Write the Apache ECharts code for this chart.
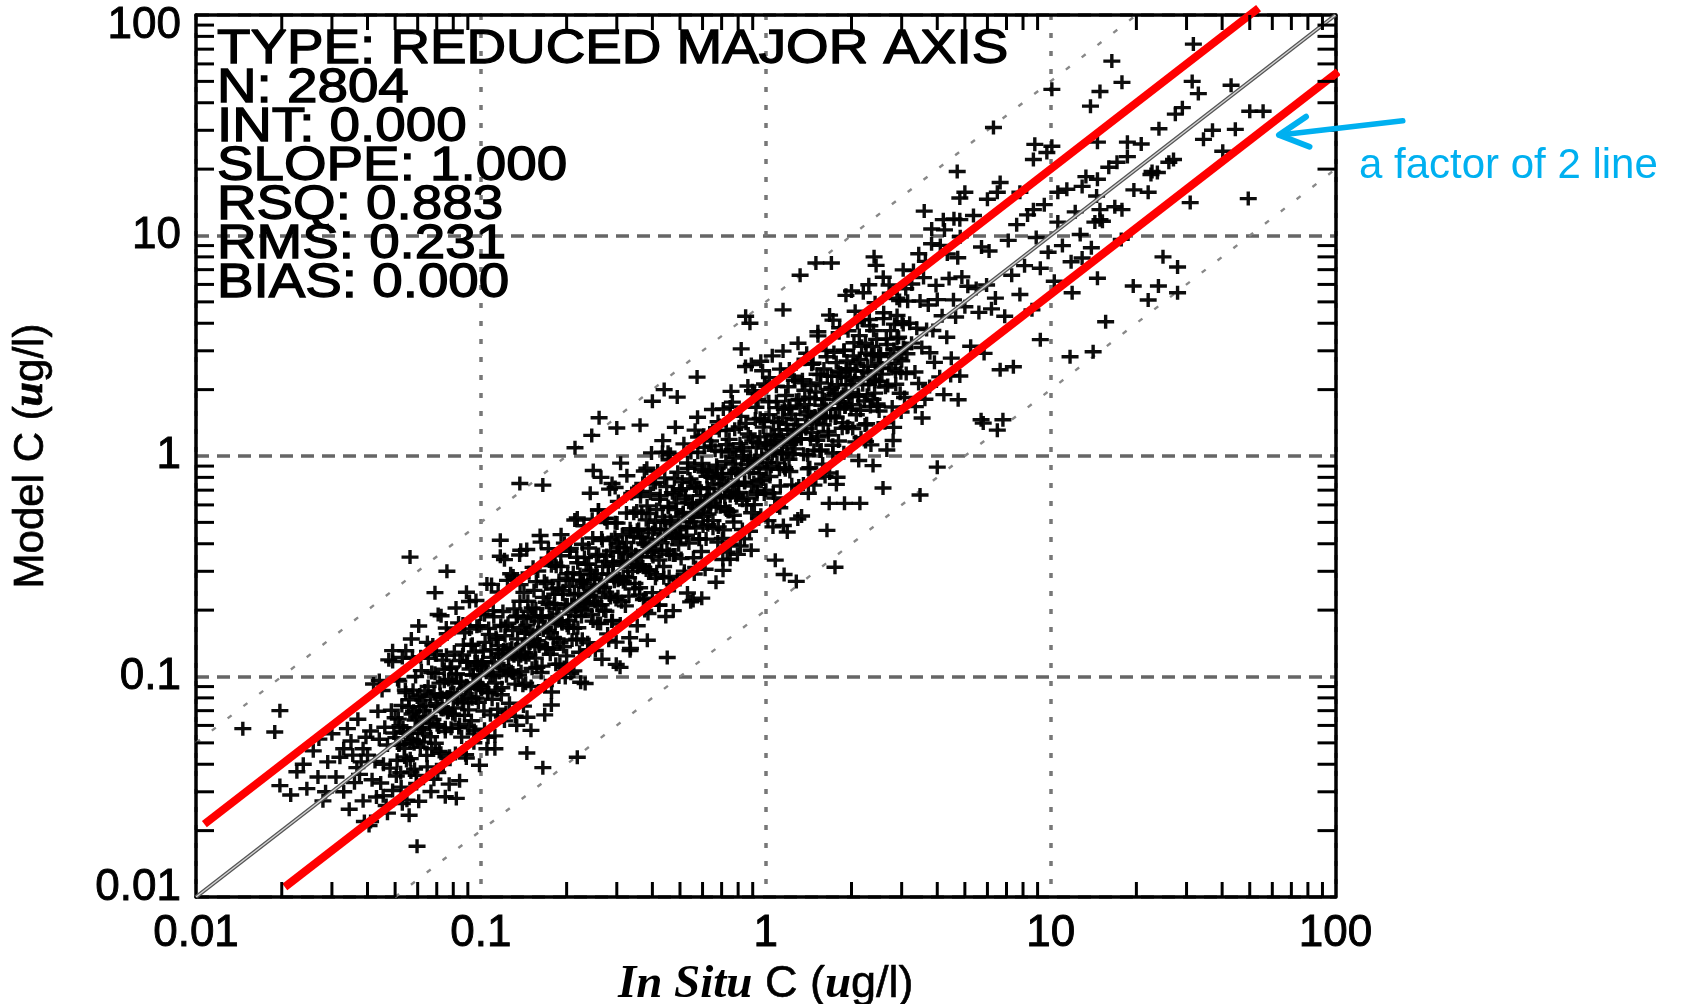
<!DOCTYPE html>
<html>
<head>
<meta charset="utf-8">
<script src="https://cdn.jsdelivr.net/npm/echarts@6/dist/echarts.min.js"></script>
<style>html,body{margin:0;padding:0;background:#fff;}#c{width:1682px;height:1004px;}</style>
</head>
<body>
<div id="c"></div>
<script>
// ---------- tick labels / stats ----------
const xTickLabels = ['0.01', '0.1', '1', '10', '100'];
const yTickLabels = ['0.01', '0.1', '1', '10', '100'];
const minorTickValues = [0.02,0.03,0.04,0.05,0.06,0.07,0.08,0.09,0.2,0.3,0.4,0.5,0.6,0.7,0.8,0.9,2,3,4,5,6,7,8,9,20,30,40,50,60,70,80,90];
const statsLines = ['TYPE: REDUCED MAJOR AXIS', 'N: 2804', 'INT: 0.000', 'SLOPE: 1.000', 'RSQ: 0.883', 'RMS: 0.231', 'BIAS: 0.000'];

// ---------- reference lines (In Situ, Model) ----------
const oneToOne = [[0.01, 0.01], [100, 100]];
const factor5Upper = [[0.01, 0.05], [20, 100]];
const factor5Lower = [[0.05, 0.01], [100, 20]];
const factor2Upper = [[0.0107, 0.0214], [53.7, 107.4]];
const factor2Lower = [[0.0205, 0.0111], [102.2, 55.3]];

// ---------- scatter points [In Situ C, Model C] ----------
const tailLow = [[0.0146,0.058],[0.0189,0.056],[0.0197,0.07],[0.0197,0.032],[0.0215,0.029],[0.0226,0.037],[0.0238,0.04],[0.0245,0.031],[0.0258,0.046],[0.0268,0.035],[0.027,0.052],[0.0279,0.0273],[0.0285,0.03],[0.029,0.041],[0.03,0.055],[0.031,0.035],[0.032,0.043],[0.033,0.03],[0.033,0.047],[0.034,0.058],[0.0345,0.025],[0.035,0.051],[0.0355,0.044],[0.036,0.033],[0.0367,0.0386],[0.037,0.064],[0.0375,0.036],[0.038,0.041],[0.0386,0.0273],[0.0386,0.047],[0.039,0.022],[0.0395,0.053]];
const bin040 = [[0.04,0.044],[0.0405,0.0211],[0.041,0.0566],[0.0415,0.034],[0.042,0.0924],[0.0425,0.0412],[0.043,0.0284],[0.0435,0.0696],[0.044,0.0519],[0.0445,0.0329],[0.045,0.0864],[0.0455,0.04],[0.046,0.0589],[0.0465,0.026],[0.047,0.0489],[0.0475,0.119],[0.048,0.0384],[0.0485,0.0703],[0.049,0.0304],[0.0495,0.0554]];
const bin050 = [[0.05,0.065],[0.0505,0.0354],[0.051,0.0969],[0.0515,0.0489],[0.052,0.0598],[0.0525,0.0315],[0.053,0.122],[0.0535,0.0562],[0.054,0.0432],[0.0545,0.0845],[0.055,0.0275],[0.0555,0.0555],[0.056,0.0784],[0.0565,0.0424],[0.057,0.148],[0.0575,0.0518],[0.058,0.0696],[0.0585,0.038],[0.059,0.1],[0.0595,0.0655],[0.06,0.051],[0.0605,0.0272],[0.061,0.0824],[0.0615,0.123],[0.062,0.0589],[0.0625,0.0781]];
const bin063 = [[0.063,0.0504],[0.0636,0.0859],[0.0642,0.0655],[0.0648,0.0389],[0.0654,0.121],[0.066,0.0614],[0.0666,0.0813],[0.0672,0.047],[0.0678,0.139],[0.0684,0.0342],[0.069,0.1035],[0.0696,0.0752],[0.0702,0.0604],[0.0708,0.191],[0.0714,0.0457],[0.072,0.0828],[0.0726,0.0711],[0.0732,0.1186],[0.0738,0.0399],[0.0744,0.0952],[0.075,0.0585],[0.0756,0.166],[0.0762,0.0808],[0.0768,0.0691],[0.0774,0.0325],[0.078,0.109],[0.0786,0.0582],[0.0792,0.0935]];
const bin080 = [[0.08,0.072],[0.0807,0.129],[0.0814,0.0448],[0.0821,0.1026],[0.0828,0.0828],[0.0835,0.175],[0.0842,0.0606],[0.0849,0.0951],[0.0856,0.0531],[0.0863,0.1251],[0.087,0.0766],[0.0877,0.158],[0.0884,0.0442],[0.0891,0.0909],[0.0898,0.1167],[0.0905,0.0706],[0.0912,0.219],[0.0919,0.0882],[0.0926,0.063],[0.0933,0.14],[0.094,0.1015],[0.0947,0.0549],[0.0954,0.1164],[0.0961,0.0798],[0.0968,0.169],[0.0975,0.1121],[0.0982,0.0913],[0.0989,0.0396]];
const bin100 = [[0.1,0.192],[0.101,0.0889],[0.102,0.1306],[0.103,0.0577],[0.104,0.1082],[0.105,0.2625],[0.106,0.0848],[0.107,0.1552],[0.108,0.067],[0.109,0.1221],[0.11,0.1012],[0.111,0.1865],[0.112,0.0538],[0.113,0.1503],[0.114,0.0866],[0.115,0.138],[0.116,0.1044],[0.117,0.351],[0.118,0.0826],[0.119,0.1261],[0.12,0.132],[0.121,0.0629],[0.122,0.1684],[0.123,0.1009],[0.124,0.2728],[0.125,0.1213]];
const bin126 = [[0.126,0.0756],[0.1272,0.2926],[0.1284,0.1348],[0.1296,0.1037],[0.1308,0.2027],[0.132,0.066],[0.1332,0.1332],[0.1344,0.1882],[0.1356,0.1017],[0.1368,0.3557],[0.138,0.1242],[0.1392,0.167],[0.1404,0.0913],[0.1416,0.2407],[0.1428,0.1571],[0.144,0.1224],[0.1452,0.0653],[0.1464,0.1976],[0.1476,0.2952],[0.1488,0.1414],[0.15,0.1875],[0.1512,0.1089],[0.1524,0.1554],[0.1536,0.2458],[0.1548,0.1362],[0.156,0.2028],[0.1572,0.11],[0.1584,0.301]];
const bin160 = [[0.16,0.1376],[0.1614,0.4358],[0.1628,0.1042],[0.1642,0.1888],[0.1656,0.1623],[0.167,0.2705],[0.1684,0.0909],[0.1698,0.2173],[0.1712,0.1335],[0.1726,0.3797],[0.174,0.1844],[0.1754,0.1579],[0.1768,0.0743],[0.1782,0.2495],[0.1796,0.1329],[0.181,0.2136],[0.1824,0.1733],[0.1838,0.3161],[0.1852,0.1482],[0.1866,0.2519],[0.188,0.1918],[0.1894,0.1136],[0.1908,0.353],[0.1922,0.1787],[0.1936,0.2362],[0.195,0.1365],[0.1964,0.4026],[0.1978,0.0989]];
const bin200 = [[0.2,0.124],[0.2017,0.2925],[0.2034,0.179],[0.2051,0.3692],[0.2068,0.1034],[0.2085,0.2127],[0.2102,0.2733],[0.2119,0.1653],[0.2136,0.5126],[0.2153,0.2067],[0.217,0.1476],[0.2187,0.3281],[0.2204,0.238],[0.2221,0.1288],[0.2238,0.273],[0.2255,0.1872],[0.2272,0.3976],[0.2289,0.2632],[0.2306,0.2145],[0.2323,0.0929],[0.234,0.3229],[0.2357,0.231],[0.2374,0.2137],[0.2391,0.3826],[0.2408,0.1324],[0.2425,0.3031],[0.2442,0.2442],[0.2459,0.5164],[0.2476,0.1783]];
const bin250 = [[0.25,0.275],[0.2522,0.1311],[0.2544,0.3511],[0.2566,0.2104],[0.2588,0.5694],[0.261,0.2532],[0.2632,0.1737],[0.2654,0.4246],[0.2676,0.3158],[0.2698,0.1997],[0.272,0.5222],[0.2742,0.2413],[0.2764,0.3538],[0.2786,0.156],[0.2808,0.292],[0.283,0.7075],[0.2852,0.2282],[0.2874,0.4167],[0.2896,0.1796],[0.2918,0.3268],[0.294,0.2705],[0.2962,0.4976],[0.2984,0.1432],[0.3006,0.3998],[0.3028,0.2301],[0.305,0.366],[0.3072,0.2765],[0.3094,0.9282],[0.3116,0.2181],[0.3138,0.3326]];
const bin316 = [[0.316,0.2844],[0.3188,0.3826],[0.3216,0.209],[0.3244,0.5515],[0.3272,0.3599],[0.33,0.2805],[0.3328,0.1498],[0.3356,0.4531],[0.3384,0.6768],[0.3412,0.3241],[0.344,0.43],[0.3468,0.2497],[0.3496,0.3566],[0.3524,0.5638],[0.3552,0.3126],[0.358,0.4654],[0.3608,0.2526],[0.3636,0.6908],[0.3664,0.3481],[0.3692,0.4246],[0.372,0.2232],[0.3748,0.8556],[0.3776,0.3965],[0.3804,0.3043],[0.3832,0.594],[0.386,0.193],[0.3888,0.3888],[0.3916,0.5482],[0.3944,0.2958],[0.3972,1.033]];
const bin400 = [[0.4,0.24],[0.4035,0.7465],[0.407,0.3785],[0.4105,0.5008],[0.414,0.2898],[0.4175,0.8559],[0.421,0.2105],[0.4245,0.6368],[0.428,0.4622],[0.4315,0.3711],[0.435,1.1745],[0.4385,0.2806],[0.442,0.5083],[0.4455,0.4366],[0.449,0.7274],[0.4525,0.2444],[0.456,0.5837],[0.4595,0.3584],[0.463,1.0186],[0.4665,0.4945],[0.47,0.423],[0.4735,0.1989],[0.477,0.6678],[0.4805,0.3556],[0.484,0.5711],[0.4875,0.4631],[0.491,0.8445],[0.4945,0.3956]];
const bin500 = [[0.5,0.48],[0.5045,0.3431],[0.509,0.7635],[0.5135,0.5546],[0.518,0.3004],[0.5225,0.6375],[0.527,0.4374],[0.5315,0.9301],[0.536,0.6164],[0.5405,0.5027],[0.545,0.218],[0.5495,0.7583],[0.554,0.5429],[0.5585,0.5027],[0.563,0.9008],[0.5675,0.3121],[0.572,0.715],[0.5765,0.5765],[0.581,1.2201],[0.5855,0.4216],[0.59,0.6608],[0.5945,0.3686],[0.599,0.8686],[0.6035,0.5311],[0.608,1.0944],[0.6125,0.3063],[0.617,0.6293],[0.6215,0.808],[0.626,0.4883]];
const bin630 = [[0.63,0.8505],[0.6357,1.2714],[0.6414,0.6093],[0.6471,0.8089],[0.6528,0.47],[0.6585,0.6717],[0.6642,1.0627],[0.6699,0.5895],[0.6756,0.8783],[0.6813,0.4769],[0.687,1.3053],[0.6927,0.6581],[0.6984,0.8032],[0.7041,0.4225],[0.7098,1.6325],[0.7155,0.7513],[0.7212,0.577],[0.7269,1.1267],[0.7326,0.3663],[0.7383,0.7383],[0.744,1.0416],[0.7497,0.5623],[0.7554,1.964],[0.7611,0.685],[0.7668,0.9202],[0.7725,0.5021],[0.7782,1.3229],[0.7839,0.8623],[0.7896,0.6712],[0.7953,0.3579]];
const bin800 = [[0.8,0.736],[0.807,1.3558],[0.814,0.3907],[0.821,1.0919],[0.828,0.6293],[0.835,1.002],[0.842,0.7578],[0.849,2.547],[0.856,0.5992],[0.863,0.9148],[0.87,0.957],[0.877,0.456],[0.884,1.2199],[0.891,0.7306],[0.898,1.9756],[0.905,0.8779],[0.912,0.6019],[0.919,1.4704],[0.926,1.0927],[0.933,0.6904],[0.94,1.8048],[0.947,0.8334],[0.954,1.2211],[0.961,0.5382],[0.968,1.0067],[0.975,2.4375],[0.982,0.7856],[0.989,1.4341]];
const bin1000 = [[1.0,0.7],[1.009,2.068],[1.018,0.509],[1.027,1.541],[1.036,1.119],[1.045,0.899],[1.054,2.846],[1.063,0.68],[1.072,1.233],[1.081,1.059],[1.09,1.766],[1.099,0.593],[1.108,1.418],[1.117,0.871],[1.126,2.477],[1.135,1.203],[1.144,1.03],[1.153,0.484],[1.162,1.627],[1.171,0.867],[1.18,1.392],[1.189,1.13],[1.198,2.061],[1.207,0.966],[1.216,1.642],[1.225,1.25],[1.234,0.74],[1.243,2.3],[1.252,1.164]];
const bin1260 = [[1.26,2.205],[1.272,1.463],[1.284,1.194],[1.296,0.518],[1.308,1.805],[1.32,1.294],[1.332,1.199],[1.344,2.15],[1.356,0.746],[1.368,1.71],[1.38,1.38],[1.392,2.923],[1.404,1.011],[1.416,1.586],[1.428,0.885],[1.44,2.088],[1.452,1.278],[1.464,2.635],[1.476,0.738],[1.488,1.518],[1.5,1.95],[1.512,1.179],[1.524,3.658],[1.536,1.475],[1.548,1.053],[1.56,2.34],[1.572,1.698],[1.584,0.919]];
const bin1600 = [[1.6,2.48],[1.615,0.808],[1.63,1.63],[1.645,2.303],[1.66,1.245],[1.675,4.355],[1.69,1.521],[1.705,2.046],[1.72,1.118],[1.735,2.95],[1.75,1.925],[1.765,1.5],[1.78,0.801],[1.795,2.423],[1.81,3.62],[1.825,1.734],[1.84,2.3],[1.855,1.336],[1.87,1.907],[1.885,3.016],[1.9,1.672],[1.915,2.49],[1.93,1.351],[1.945,3.696],[1.96,1.862],[1.975,2.271]];
const bin2000 = [[2.0,1.94],[2.02,1.333],[2.04,3.264],[2.06,2.431],[2.08,1.539],[2.1,4.032],[2.12,1.866],[2.14,2.739],[2.16,1.21],[2.18,2.267],[2.2,5.5],[2.22,1.776],[2.24,3.248],[2.26,1.401],[2.28,2.554],[2.3,2.116],[2.32,3.898],[2.34,1.123],[2.36,3.139],[2.38,1.809],[2.4,2.88],[2.42,2.178],[2.44,7.32],[2.46,1.722],[2.48,2.629]];
const bin2500 = [[2.5,1.6],[2.53,2.91],[2.56,2.509],[2.59,4.196],[2.62,1.415],[2.65,3.392],[2.68,2.09],[2.71,5.962],[2.74,2.904],[2.77,2.493],[2.8,1.176],[2.83,3.962],[2.86,2.116],[2.89,3.41],[2.92,2.774],[2.95,5.074],[2.98,2.384],[3.01,4.064],[3.04,3.101],[3.07,1.842],[3.1,5.735],[3.13,2.911]];
const bin3160 = [[3.2,4.0],[3.25,3.25],[3.3,6.93],[3.34,2.405],[3.39,3.797],[3.44,2.133],[3.48,5.046],[3.53,3.106],[3.58,6.444],[3.62,1.81],[3.67,3.743],[3.72,4.836],[3.77,2.941],[3.82,9.168],[3.86,3.706],[3.91,2.659],[3.96,5.94]];
const bin4000 = [[4.0,5.12],[4.08,2.285],[4.16,4.326],[4.24,10.6],[4.32,3.456],[4.4,6.38],[4.48,2.778],[4.56,5.107],[4.64,4.269],[4.72,7.93],[4.8,2.304],[4.88,6.49]];
const bin5000 = [[5.0,4.75],[5.12,5.888],[5.24,3.144],[5.36,12.33],[5.48,5.754],[5.6,4.48],[5.72,8.866],[5.84,2.92],[5.96,5.96],[6.08,8.512],[6.2,4.65]];
// second reading of the dense core, close to the 1:1 line
const core050 = [[0.0503,0.0528],[0.0508,0.0417],[0.0513,0.0641],[0.0518,0.0492],[0.0523,0.0366],[0.0528,0.0739],[0.0533,0.0586],[0.0538,0.0473],[0.0543,0.0869],[0.0548,0.0416],[0.0553,0.0553],[0.0558,0.0725],[0.0563,0.0507],[0.0568,0.0369],[0.0573,0.0676],[0.0578,0.0867],[0.0583,0.0496],[0.0588,0.0635],[0.0593,0.0356],[0.0598,0.0807],[0.0603,0.0585],[0.0608,0.073],[0.0613,0.0478],[0.0618,0.1063],[0.0623,0.0573],[0.0628,0.0703]];
const core063 = [[0.0633,0.0551],[0.064,0.0736],[0.0646,0.0439],[0.0653,0.0901],[0.0659,0.0659],[0.0666,0.0533],[0.0672,0.1042],[0.0679,0.0638],[0.0685,0.0836],[0.0692,0.0498],[0.0698,0.1256],[0.0705,0.0733],[0.0711,0.059],[0.0718,0.0933],[0.0724,0.0449],[0.0731,0.0804],[0.0737,0.0708],[0.0744,0.1079],[0.075,0.0563],[0.0757,0.1249],[0.0763,0.0687],[0.077,0.097],[0.0776,0.0435],[0.0783,0.0838],[0.0789,0.1105],[0.0796,0.0677]];
const core080 = [[0.0804,0.0844],[0.0812,0.0666],[0.082,0.1025],[0.0828,0.0787],[0.0836,0.0585],[0.0844,0.1182],[0.0852,0.0937],[0.086,0.0757],[0.0868,0.1389],[0.0876,0.0666],[0.0884,0.0884],[0.0892,0.116],[0.09,0.081],[0.0908,0.059],[0.0916,0.1081],[0.0924,0.1386],[0.0932,0.0792],[0.094,0.1015],[0.0948,0.0569],[0.0956,0.1291],[0.0964,0.0935],[0.0972,0.1166],[0.098,0.0764],[0.0988,0.1699],[0.0996,0.0916],[0.1004,0.1124]];
const core100 = [[0.1005,0.0874],[0.1015,0.1167],[0.1025,0.0697],[0.1035,0.1428],[0.1045,0.1045],[0.1055,0.0844],[0.1065,0.1651],[0.1075,0.1011],[0.1085,0.1324],[0.1095,0.0788],[0.1105,0.1989],[0.1115,0.116],[0.1125,0.0934],[0.1135,0.1476],[0.1145,0.071],[0.1155,0.1271],[0.1165,0.1118],[0.1175,0.1704],[0.1185,0.0889],[0.1195,0.1972],[0.1205,0.1085],[0.1215,0.1531],[0.1225,0.0686],[0.1235,0.1321],[0.1245,0.1743],[0.1255,0.1067]];
const core126 = [[0.1267,0.133],[0.128,0.105],[0.1293,0.1616],[0.1306,0.1241],[0.1319,0.0923],[0.1332,0.1865],[0.1345,0.148],[0.1358,0.1195],[0.1371,0.2194],[0.1384,0.1052],[0.1397,0.1397],[0.141,0.1833],[0.1423,0.1281],[0.1436,0.0933],[0.1449,0.171],[0.1462,0.2193],[0.1475,0.1254],[0.1488,0.1607],[0.1501,0.0901],[0.1514,0.2044],[0.1527,0.1481],[0.154,0.1848],[0.1553,0.1211],[0.1566,0.2694],[0.1579,0.1453],[0.1592,0.1783]];
const core160 = [[0.1608,0.1399],[0.1624,0.1868],[0.164,0.1115],[0.1656,0.2285],[0.1672,0.1672],[0.1688,0.135],[0.1704,0.2641],[0.172,0.1617],[0.1736,0.2118],[0.1752,0.1261],[0.1768,0.3182],[0.1784,0.1855],[0.18,0.1494],[0.1816,0.2361],[0.1832,0.1136],[0.1848,0.2033],[0.1864,0.1789],[0.188,0.2726],[0.1896,0.1422],[0.1912,0.3155],[0.1928,0.1735],[0.1944,0.2449],[0.196,0.1098],[0.1976,0.2114],[0.1992,0.2789],[0.2008,0.1707]];
const core200 = [[0.201,0.2111],[0.203,0.1665],[0.205,0.2563],[0.207,0.1967],[0.209,0.1463],[0.211,0.2954],[0.213,0.2343],[0.215,0.1892],[0.217,0.3472],[0.219,0.1664],[0.221,0.221],[0.223,0.2899],[0.225,0.2025],[0.227,0.1476],[0.229,0.2702],[0.231,0.3465],[0.233,0.1981],[0.235,0.2538],[0.237,0.1422],[0.239,0.3227],[0.241,0.2338],[0.243,0.2916],[0.245,0.1911],[0.247,0.4248],[0.249,0.2291],[0.251,0.2811]];
const core250 = [[0.2513,0.2186],[0.2539,0.292],[0.2565,0.1744],[0.2591,0.3576],[0.2617,0.2617],[0.2643,0.2114],[0.2669,0.4137],[0.2695,0.2533],[0.2721,0.332],[0.2747,0.1978],[0.2773,0.4991],[0.2799,0.2911],[0.2825,0.2345],[0.2851,0.3706],[0.2877,0.1784],[0.2903,0.3193],[0.2929,0.2812],[0.2955,0.4285],[0.2981,0.2236],[0.3007,0.4962],[0.3033,0.273],[0.3059,0.3854],[0.3085,0.1728],[0.3111,0.3329],[0.3137,0.4392],[0.3163,0.2689]];
const core316 = [[0.3177,0.3336],[0.321,0.2632],[0.3243,0.4054],[0.3276,0.3112],[0.3309,0.2316],[0.3342,0.4679],[0.3375,0.3713],[0.3408,0.2999],[0.3441,0.5506],[0.3474,0.264],[0.3507,0.3507],[0.354,0.4602],[0.3573,0.3216],[0.3606,0.2344],[0.3639,0.4294],[0.3672,0.5508],[0.3705,0.3149],[0.3738,0.4037],[0.3771,0.2263],[0.3804,0.5135],[0.3837,0.3722],[0.387,0.4644],[0.3903,0.3044],[0.3936,0.677],[0.3969,0.3651],[0.4002,0.4482]];
const core400 = [[0.402,0.3497],[0.406,0.4669],[0.41,0.2788],[0.414,0.5713],[0.418,0.418],[0.422,0.3376],[0.426,0.6603],[0.43,0.4042],[0.434,0.5295],[0.438,0.3154],[0.442,0.7956],[0.446,0.4638],[0.45,0.3735],[0.454,0.5902],[0.458,0.284],[0.462,0.5082],[0.466,0.4474],[0.47,0.6815],[0.474,0.3555],[0.478,0.7887],[0.482,0.4338],[0.486,0.6124],[0.49,0.2744],[0.494,0.5286],[0.498,0.6972],[0.502,0.4267]];
const core500 = [[0.5025,0.4271],[0.5075,0.7105],[0.5125,0.5484],[0.5175,0.2898],[0.5225,0.6584],[0.5275,0.4748],[0.5325,0.8786],[0.5375,0.4031],[0.5425,0.7866],[0.5475,0.5256],[0.5525,0.6078],[0.5575,0.3457],[0.5625,0.7313],[0.5675,0.471],[0.5725,0.5954],[0.5775,1.0395],[0.5825,0.4194],[0.5875,0.7168],[0.5925,0.557],[0.5975,0.9261],[0.6025,0.482],[0.6075,0.6075],[0.6125,0.8453],[0.6175,0.4199],[0.6225,0.7159],[0.6275,0.5459]];
const core630 = [[0.6333,0.7093],[0.6398,0.5886],[0.6463,1.1116],[0.6528,0.5092],[0.6593,0.7912],[0.6658,0.6458],[0.6723,0.9076],[0.6788,0.4073],[0.6853,0.7401],[0.6918,0.588],[0.6983,1.0475],[0.7048,0.8317],[0.7113,0.4623],[0.7178,0.646],[0.7243,0.9416],[0.7308,0.7308],[0.7373,0.5603],[0.7438,1.1901],[0.7503,0.6603],[0.7568,0.8325],[0.7633,1.0686],[0.7698,0.5389],[0.7763,0.7375],[0.7828,0.9785],[0.7893,0.6472],[0.7958,0.8356]];
const core800 = [[0.804,0.683],[0.812,1.137],[0.82,0.877],[0.828,0.464],[0.836,1.053],[0.844,0.76],[0.852,1.406],[0.86,0.645],[0.868,1.259],[0.876,0.841],[0.884,0.972],[0.892,0.553],[0.9,1.17],[0.908,0.754],[0.916,0.953],[0.924,1.663],[0.932,0.671],[0.94,1.147],[0.948,0.891],[0.956,1.482],[0.964,0.771],[0.972,0.972],[0.98,1.352],[0.988,0.672],[0.996,1.145],[1.004,0.873]];
const core1000 = [[1.005,1.126],[1.015,0.934],[1.025,1.763],[1.035,0.807],[1.045,1.254],[1.055,1.023],[1.065,1.438],[1.075,0.645],[1.085,1.172],[1.095,0.931],[1.105,1.658],[1.115,1.316],[1.125,0.731],[1.135,1.022],[1.145,1.489],[1.155,1.155],[1.165,0.885],[1.175,1.88],[1.185,1.043],[1.195,1.315],[1.205,1.687],[1.215,0.851],[1.225,1.164],[1.235,1.544],[1.245,1.021],[1.255,1.318]];
const core1260 = [[1.267,1.077],[1.28,1.792],[1.293,1.384],[1.306,0.731],[1.319,1.662],[1.332,1.199],[1.345,2.219],[1.358,1.019],[1.371,1.988],[1.384,1.329],[1.397,1.537],[1.41,0.874],[1.423,1.85],[1.436,1.192],[1.449,1.507],[1.462,2.632],[1.475,1.062],[1.488,1.815],[1.501,1.411],[1.514,2.347],[1.527,1.222],[1.54,1.54],[1.553,2.143],[1.566,1.065],[1.579,1.816],[1.592,1.385]];
const core1600 = [[1.608,1.801],[1.624,1.494],[1.64,2.821],[1.656,1.292],[1.672,2.006],[1.688,1.637],[1.704,2.3],[1.72,1.032],[1.736,1.875],[1.752,1.489],[1.768,2.652],[1.784,2.105],[1.8,1.17],[1.816,1.634],[1.832,2.382],[1.848,1.848],[1.864,1.417],[1.88,3.008],[1.896,1.668],[1.912,2.103],[1.928,2.699],[1.944,1.361],[1.96,1.862],[1.976,2.47],[1.992,1.633],[2.008,2.108]];
const core2000 = [[2.01,1.709],[2.03,2.842],[2.05,2.194],[2.07,1.159],[2.09,2.633],[2.11,1.899],[2.13,3.515],[2.15,1.613],[2.17,3.147],[2.19,2.102],[2.21,2.431],[2.23,1.383],[2.25,2.925],[2.27,1.884],[2.29,2.382],[2.31,4.158],[2.33,1.678],[2.35,2.867],[2.37,2.228],[2.39,3.705],[2.41,1.928],[2.43,2.43],[2.45,3.381],[2.47,1.68],[2.49,2.864],[2.51,2.184]];
const core2500 = [[2.52,2.822],[2.557,2.352],[2.594,4.462],[2.631,2.052],[2.668,3.202],[2.705,2.624],[2.742,3.702],[2.779,1.667],[2.816,3.041],[2.853,2.425],[2.89,4.335],[2.927,3.454],[2.964,1.927],[3.001,2.701],[3.038,3.949],[3.075,3.075],[3.112,2.365],[3.149,5.038]];
// points outside the factor-2 band, along the whole cloud
const fringeUpper = [[0.0515,0.0953],[0.0545,0.1308],[0.0575,0.1208],[0.0605,0.1694],[0.0649,0.1428],[0.0687,0.1305],[0.0725,0.1885],[0.0762,0.1562],[0.0818,0.2045],[0.0865,0.173],[0.0913,0.1643],[0.0961,0.221],[0.103,0.1906],[0.109,0.2616],[0.115,0.2415],[0.121,0.3388],[0.1298,0.2856],[0.1373,0.2609],[0.1449,0.3767],[0.1525,0.3126],[0.1627,0.4068],[0.1722,0.3444],[0.1817,0.3271],[0.1912,0.4398],[0.206,0.3811],[0.218,0.5232],[0.23,0.483],[0.242,0.6776],[0.2585,0.5687],[0.2736,0.5198],[0.2887,0.7506],[0.3037,0.6226],[0.3255,0.8138],[0.3444,0.6888],[0.3634,0.6541],[0.3824,0.8795],[0.41,0.7585],[0.4338,1.0411],[0.4577,0.9612],[0.4816,1.3485],[0.516,1.1352],[0.5461,1.0376],[0.5762,1.4981],[0.6062,1.2427],[0.65,1.625],[0.6878,1.3756],[0.7257,1.3063],[0.7635,1.756],[0.8178,1.513],[0.8655,2.0772],[0.9131,1.9175],[0.9607,2.69],[1.03,2.266],[1.09,2.071],[1.15,2.99],[1.21,2.4805],[1.298,3.245],[1.373,2.746],[1.449,2.608],[1.525,3.5075],[1.627,3.01],[1.722,4.133],[1.817,3.816],[1.912,5.354],[2.06,4.532],[2.18,4.142],[2.3,5.98],[2.42,4.961],[2.585,6.4625],[2.736,5.472],[2.887,5.197],[3.037,6.985],[3.255,6.022],[3.444,8.266],[3.634,7.631],[3.824,10.707],[4.1,9.02],[4.338,8.242],[4.577,11.9],[4.816,9.873]];
const fringeLower = [[0.053,0.0265],[0.056,0.0235],[0.0595,0.0327],[0.0668,0.0301],[0.0706,0.0367],[0.075,0.0285],[0.0842,0.0337],[0.0889,0.0427],[0.0945,0.0501],[0.106,0.053],[0.112,0.047],[0.119,0.0655],[0.1336,0.0601],[0.1411,0.0734],[0.1499,0.057],[0.1675,0.067],[0.177,0.085],[0.188,0.0996],[0.212,0.106],[0.224,0.0941],[0.238,0.1309],[0.2661,0.1197],[0.2811,0.1462],[0.2987,0.1135],[0.335,0.134],[0.3539,0.1699],[0.376,0.1993],[0.4219,0.211],[0.4458,0.1872],[0.4736,0.2605],[0.5311,0.239],[0.5611,0.2918],[0.5962,0.2266],[0.6689,0.2676],[0.7067,0.3392],[0.7509,0.398],[0.8416,0.4208],[0.8893,0.3735],[0.9449,0.5197],[1.06,0.477],[1.12,0.5824],[1.19,0.4522],[1.336,0.5344],[1.411,0.6773],[1.499,0.7945],[1.675,0.8375],[1.77,0.7434],[1.88,1.034],[2.12,0.954],[2.24,1.165],[2.38,0.9044],[2.661,1.064],[2.811,1.349],[2.987,1.583],[3.35,1.675],[3.539,1.486],[3.76,2.068],[4.219,1.899],[4.458,2.318],[4.736,1.8]];
const tailHigh = [[6.3,30.9],[6.4,5.2],[6.5,15.7],[6.65,17.4],[6.65,2.46],[6.8,1.46],[6.9,4.3],[7.1,9.5],[7.3,6.6],[7.4,2.54],[7.6,11.2],[7.8,15.7],[7.8,5.4],[8.1,7.3],[8.3,12.4],[8.6,4.6],[8.7,13.1],[8.7,22.1],[8.8,25.9],[8.9,9.8],[9.2,3.37],[9.2,7.1],[9.5,13.8],[9.7,23.8],[9.8,8.4],[10.1,25.4],[10.1,46],[10.3,6.2],[10.6,15.7],[10.6,11.5],[11.0,9.0],[11.4,16.2],[11.7,2.82],[11.8,7.6],[11.9,5.5],[12.2,12.8],[12.7,10.1],[12.9,16.7],[12.9,7.9],[13.3,18.5],[13.8,38.6],[13.9,8.8],[14.1,2.97],[14.3,11.5],[14.5,15.1],[14.6,26.5],[14.6,6.4],[14.6,18],[14.9,45],[14.9,13.1],[14.9,11.8],[15.2,11.6],[15.6,4.06],[16.0,20.4],[16.4,61.8],[16.8,13.5],[17.1,21.5],[17.7,9.6],[17.8,49.5],[17.8,13.1],[18.6,26.5],[18.6,22.8],[19.5,5.9],[19.6,16.1],[20.8,26.0],[22,15.7],[22,5.1],[22.5,18.9],[22.7,19.5],[23.7,19.3],[23.9,5.9],[24.0,30.5],[24.8,8.0],[26.0,21.5],[27,22.1],[27.4,35.5],[27.9,7.2],[27.9,5.5],[29.0,38.0],[30.9,14.1],[31.4,50],[31.7,73.8],[33.0,44.0],[34.4,27.3],[37.0,30.0],[40.2,24.1],[43.0,48.0],[44.5,30.3],[49.4,14.7],[50,36.6],[55.7,36.6]];
const outUpper = [[0.044,0.096],[0.049,0.131],[0.049,0.117],[0.0564,0.348],[0.069,0.24],[0.076,0.3],[0.089,0.241],[0.117,0.415],[0.131,0.275],[0.137,0.75],[0.138,0.374],[0.165,0.738],[0.214,1.09],[0.245,1.24],[0.248,0.86],[0.26,1.49],[0.264,0.8],[0.296,0.72],[0.3,1.34],[0.362,1.38],[0.37,0.75],[0.4,1.77],[0.44,2.0],[0.454,1.04],[0.489,1.85],[0.565,1.31],[0.574,2.28],[0.64,1.17],[0.68,1.43],[0.75,1.67],[0.82,3.06],[0.85,4.3],[0.88,4.0],[0.89,2.6],[0.99,2.12],[1.15,4.6],[1.32,6.6],[1.5,7.5],[1.7,7.5],[2.0,5.6],[2.4,8.0],[3.6,12.9],[4.2,11.8],[4.7,19.5],[4.8,11.8],[4.8,14.8],[5.0,15.7],[6.0,14.6]];
const outLower = [[0.041,0.022],[0.0454,0.0288],[0.047,0.024],[0.0597,0.017],[0.082,0.028],[0.105,0.047],[0.145,0.045],[0.165,0.0386],[0.218,0.043],[0.308,0.11],[0.334,0.131],[0.384,0.146],[0.451,0.122],[0.556,0.221],[0.708,0.303],[0.75,0.34],[1.08,0.337],[1.16,0.29],[1.28,0.27],[1.64,0.46],[1.67,0.61],[1.75,0.313],[1.89,0.61],[2.14,0.61],[2.58,0.716],[3.48,0.665],[4.0,0.89],[5.7,1.46],[5.8,1.41],[6.5,1.31]];

const allPoints = [].concat(tailLow, bin040, bin050, bin063, bin080, bin100, bin126, bin160, bin200, bin250, bin316,
  bin400, bin500, bin630, bin800, bin1000, bin1260, bin1600, bin2000, bin2500, bin3160, bin4000, bin5000,
  core050, core063, core080, core100, core126, core160, core200, core250, core316, core400, core500, core630,
  core800, core1000, core1260, core1600, core2000, core2500, fringeUpper, fringeLower, tailHigh, outUpper, outLower);

// ---------- chart ----------
const chart = echarts.init(document.getElementById('c'), null, {renderer: 'canvas'});
const plusSymbol = 'path://M0,5.3H17V8.7H0Z M6.8,0H10.2V14H6.8Z';
const SANS = 'Liberation Sans';
const SERIF = 'Liberation Serif';

function labelFor(list, v) { return list[Math.round(Math.log10(v)) + 2]; }

function renderXTick(params, api) {
  const v = api.value(0);
  const b = api.coord([v, 0.01]);
  const t = api.coord([v, 100]);
  const st = {stroke: '#000', lineWidth: 3};
  return {type: 'group', children: [
    {type: 'line', shape: {x1: b[0], y1: b[1], x2: b[0], y2: b[1] - 15}, style: st},
    {type: 'line', shape: {x1: t[0], y1: t[1], x2: t[0], y2: t[1] + 15}, style: st}
  ]};
}
function renderYTick(params, api) {
  const v = api.value(1);
  const l = api.coord([0.01, v]);
  const r = api.coord([100, v]);
  const st = {stroke: '#000', lineWidth: 3};
  return {type: 'group', children: [
    {type: 'line', shape: {x1: l[0], y1: l[1], x2: l[0] + 18, y2: l[1]}, style: st},
    {type: 'line', shape: {x1: r[0], y1: r[1], x2: r[0] - 18, y2: r[1]}, style: st}
  ]};
}

const axisLineStyle = {show: true, lineStyle: {color: '#000', width: 3.5}};
const tickFont = {color: '#000', fontFamily: SANS, fontSize: 44, textBorderColor: '#000', textBorderWidth: 0.9};

const option = {
  backgroundColor: '#fff',
  animation: false,
  grid: {left: 196, top: 15, width: 1139.5, height: 882, containLabel: false, outerBoundsMode: 'none'},
  xAxis: [
    {
      type: 'log', logBase: 10, min: 0.01, max: 100, position: 'bottom',
      axisLine: axisLineStyle, axisTick: {show: false}, minorTick: {show: false},
      axisLabel: Object.assign({margin: 15, formatter: v => labelFor(xTickLabels, v)}, tickFont),
      splitLine: {show: true, lineStyle: {color: '#777', width: 3.5, type: [5, 13]}},
      name: '{it|In Situ}{n| C (}{u|u}{n|g/l)}',
      nameLocation: 'middle', nameGap: 57,
      nameTextStyle: {
        color: '#000', fontSize: 45, fontFamily: SANS,
        rich: {
          it: {fontFamily: SERIF, fontStyle: 'italic', fontWeight: 'bold', fontSize: 47, color: '#000'},
          n: {fontFamily: SANS, fontSize: 45, color: '#000', textBorderColor: '#000', textBorderWidth: 0.6},
          u: {fontFamily: SERIF, fontStyle: 'italic', fontWeight: 'bold', fontSize: 47, color: '#000'}
        }
      }
    },
    {
      type: 'log', logBase: 10, min: 0.01, max: 100, position: 'top',
      axisLine: axisLineStyle, axisTick: {show: false}, axisLabel: {show: false}, splitLine: {show: false}
    }
  ],
  yAxis: [
    {
      type: 'log', logBase: 10, min: 0.01, max: 100, position: 'left',
      axisLine: axisLineStyle, axisTick: {show: false}, minorTick: {show: false},
      axisLabel: Object.assign({
        margin: 15,
        formatter: v => {
          const s = labelFor(yTickLabels, v);
          if (s === '100') return '{top|' + s + '}';
          if (s === '0.01') return '{bot|' + s + '}';
          return s;
        },
        rich: {
          top: Object.assign({padding: [22, 0, 0, 0]}, tickFont),
          bot: Object.assign({padding: [0, 0, 18, 0]}, tickFont)
        }
      }, tickFont),
      splitLine: {show: true, lineStyle: {color: '#666', width: 3.5, type: [13, 8]}},
      name: 'Model C ({u|u}g/l)',
      nameLocation: 'middle', nameGap: 143,
      nameTextStyle: {
        color: '#000', fontSize: 42, fontFamily: SANS, textBorderColor: '#000', textBorderWidth: 0.7,
        rich: {u: {fontFamily: SERIF, fontStyle: 'italic', fontWeight: 'bold', fontSize: 44, color: '#000'}}
      }
    },
    {
      type: 'log', logBase: 10, min: 0.01, max: 100, position: 'right',
      axisLine: axisLineStyle, axisTick: {show: false}, axisLabel: {show: false}, splitLine: {show: false}
    }
  ],
  series: [
    {type: 'line', data: factor5Upper, symbol: 'none', silent: true, z: 1,
     lineStyle: {color: '#888', width: 2.4, type: [5, 15]}},
    {type: 'line', data: factor5Lower, symbol: 'none', silent: true, z: 1,
     lineStyle: {color: '#888', width: 2.4, type: [5, 15]}},
    {type: 'scatter', data: allPoints, symbol: plusSymbol, symbolSize: [17, 14], silent: true, z: 2,
     large: false, itemStyle: {color: '#000', opacity: 0.95}},
    {type: 'line', data: oneToOne, symbol: 'none', silent: true, z: 3,
     lineStyle: {color: '#555', width: 4}},
    {type: 'line', data: oneToOne, symbol: 'none', silent: true, z: 3,
     lineStyle: {color: '#d4d4d4', width: 1.4}},
    {type: 'line', data: factor2Upper, symbol: 'none', silent: true, clip: false, z: 4,
     lineStyle: {color: '#ff0000', width: 8, cap: 'butt'}},
    {type: 'line', data: factor2Lower, symbol: 'none', silent: true, clip: false, z: 4,
     lineStyle: {color: '#ff0000', width: 8, cap: 'butt'}},
    {type: 'custom', data: minorTickValues.map(v => [v, 1]), renderItem: renderXTick, silent: true, z: 5, clip: false},
    {type: 'custom', data: minorTickValues.map(v => [1, v]), renderItem: renderYTick, silent: true, z: 5, clip: false}
  ],
  graphic: statsLines.map((t, k) => ({
    type: 'text', x: 217, y: 49.5 + 39.1 * k, scaleX: 1.153, z: 10, silent: true,
    style: {text: t, fontSize: 47.5, fontFamily: SANS, fill: '#000', stroke: '#000', lineWidth: 1.3,
            align: 'left', verticalAlign: 'middle', textAlign: 'left', textVerticalAlign: 'middle'}
  })).concat([
    {type: 'text', x: 1359, y: 166, z: 10, silent: true,
     style: {text: 'a factor of 2 line', fontSize: 42, fontFamily: SANS, fill: '#00B0F0',
             align: 'left', verticalAlign: 'middle', textAlign: 'left', textVerticalAlign: 'middle'}},
    {type: 'polyline', z: 10, silent: true, shape: {points: [[1402.8, 120.7], [1280, 135]]},
     style: {stroke: '#00B0F0', lineWidth: 5.5, lineCap: 'round', fill: null}},
    {type: 'polyline', z: 10, silent: true, shape: {points: [[1306, 116.7], [1279, 135], [1309.5, 146.7]]},
     style: {stroke: '#00B0F0', lineWidth: 6, lineCap: 'round', lineJoin: 'round', fill: null}}
  ])
};
chart.setOption(option);
</script>
</body>
</html>
